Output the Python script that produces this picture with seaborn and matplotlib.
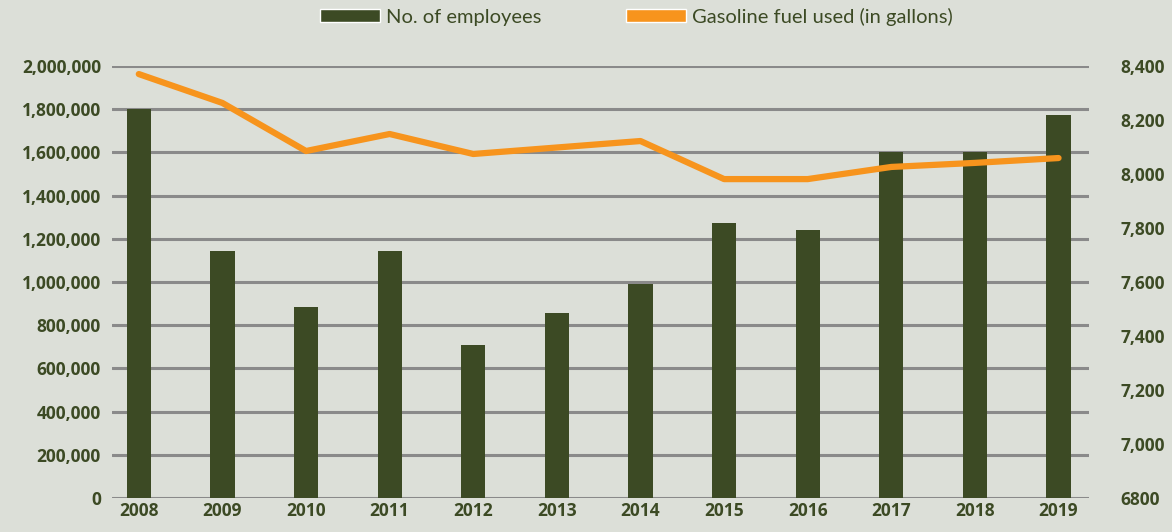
import pandas as pd
import seaborn as sns
import matplotlib.pyplot as plt
from matplotlib.patches import Patch

years = ['2008', '2009', '2010', '2011', '2012', '2013',
         '2014', '2015', '2016', '2017', '2018', '2019']
employees = [1800000, 1145000, 885000, 1145000, 709000, 857000,
             992000, 1275000, 1242000, 1600000, 1600000, 1771000]
gasoline = [8370, 8263, 8085, 8148, 8074, 8098,
            8122, 7981, 7981, 8026, 8041, 8059]

left_ticks = [0, 200000, 400000, 600000, 800000, 1000000,
              1200000, 1400000, 1600000, 1800000, 2000000]
right_ticks = [6800, 7000, 7200, 7400, 7600, 7800, 8000, 8200, 8400]
right_labels = ['6800', '7,000', '7,200', '7,400', '7,600', '7,800',
                '8,000', '8,200', '8,400']

bg = '#dcdfd8'
bar_color = '#3c4a24'
line_color = '#f7941d'
text_color = '#3c4a24'
grid_color = '#8a8a8a'
tick_font = dict(fontweight='bold', fontfamily=['Open Sans', 'DejaVu Sans'])

sns.set_theme(style='white')
plt.rcParams['font.family'] = ['Lato', 'DejaVu Sans']

df = pd.DataFrame({'year': years, 'employees': employees, 'gasoline': gasoline})

fig = plt.figure(figsize=(11.72, 5.32), dpi=100, facecolor=bg)
ax = fig.add_axes([0.0956, 0.064, 0.834, 0.812])
ax.set_facecolor(bg)

# horizontal grid from the left axis
for t in left_ticks:
    ax.axhline(t, color=grid_color, lw=2.2, zorder=0)

sns.barplot(data=df, x='year', y='employees', color=bar_color, width=0.29,
            saturation=1, linewidth=0, ax=ax, zorder=2)
ax.set_ylim(0, 2000000)
ax.set_xlim(-0.32, 11.37)
ax.set_yticks(left_ticks, [f'{t:,}' for t in left_ticks], **tick_font)
ax.set_xticks(range(len(years)), years, **tick_font)
ax.set_xlabel('')
ax.set_ylabel('')
for s in ax.spines.values():
    s.set_visible(False)
ax.tick_params(axis='both', length=0, labelsize=12.5, labelcolor=text_color, pad=8)
ax.tick_params(axis='x', pad=3)

ax2 = ax.twinx()
sns.lineplot(data=df, x='year', y='gasoline', color=line_color, lw=4.5,
             sort=False, ax=ax2, zorder=3)
ax2.set_ylim(6800, 8400)
ax2.set_yticks(right_ticks, right_labels, **tick_font)
ax2.set_xlim(-0.32, 11.37)
ax2.set_ylabel('')
for s in ax2.spines.values():
    s.set_visible(False)
ax2.tick_params(axis='y', length=0, labelsize=12.5, labelcolor=text_color, pad=22)

handles = [Patch(facecolor=bar_color, label='No. of employees'),
           Patch(facecolor=line_color, label='Gasoline fuel used (in gallons)')]
fig.legend(handles=handles, loc='upper center', bbox_to_anchor=(0.543, 1.02),
           ncol=2, frameon=False, fontsize=14.5, labelcolor=text_color,
           handlelength=3.0, handleheight=0.6, handletextpad=0.3, columnspacing=4.2)

plt.savefig('out.png', dpi=100, facecolor=bg)
plt.close()
